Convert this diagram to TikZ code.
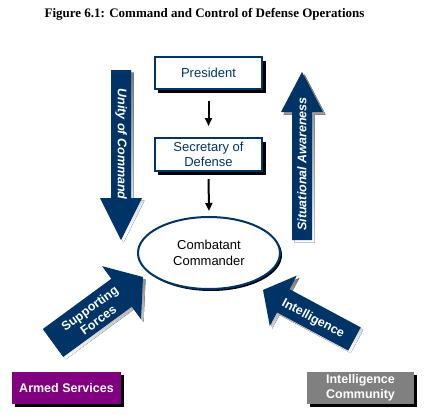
\documentclass[tikz,border=0pt]{standalone}
\usepackage{fontspec}
\setmainfont{Liberation Sans}
\newfontfamily\titlefont{Liberation Serif}
\usetikzlibrary{arrows.meta,shapes.geometric,shadows}
\definecolor{navy}{HTML}{003366}
\definecolor{purp}{HTML}{800080}
\definecolor{grayc}{HTML}{808080}
\definecolor{shade}{HTML}{A0A0A0}
\newcommand{\bigarrow}[6]{%
  \fill[shade, xshift=2.5bp, yshift=-2.5bp, shift={#1}, rotate=#2]
    (0,-#4) -- ({#3-#6},-#4) -- ({#3-#6},-#5) -- (#3,0) -- ({#3-#6},#5) -- ({#3-#6},#4) -- (0,#4) -- cycle;
  \fill[navy, shift={#1}, rotate=#2]
    (0,-#4) -- ({#3-#6},-#4) -- ({#3-#6},-#5) -- (#3,0) -- ({#3-#6},#5) -- ({#3-#6},#4) -- (0,#4) -- cycle;}
\begin{document}
\begin{tikzpicture}[x=1bp,y=-1bp,
  box/.style={draw=navy, line width=2bp, fill=white, text=navy, align=center,
    minimum width=107bp, inner sep=0pt, font=\fontsize{13bp}{15bp}\selectfont,
    drop shadow={shadow xshift=3.5bp, shadow yshift=-3.5bp, fill=black, opacity=1}},
  orgbox/.style={fill=#1, text=white, align=center, inner sep=0pt,
    minimum height=32bp, font=\bfseries\fontsize{12.5bp}{15bp}\selectfont,
    drop shadow={shadow xshift=3bp, shadow yshift=-3bp, fill=black, opacity=1}},
  arrtext/.style={text=white, align=center, inner sep=0pt, font=\bfseries\fontsize{12.5bp}{14.5bp}\selectfont},
  link/.style={line width=2bp, -{Triangle[width=7bp,length=8bp]}}]
\useasboundingbox[fill=white] (0,0) rectangle (427,415);

\node (title) at (204.5,14) {\titlefont\bfseries\fontsize{13bp}{15bp}\selectfont Figure 6.1: Command and Control of Defense Operations};

% big arrows
\bigarrow{(121,70)}{-90}{170}{10}{21}{42}
\bigarrow{(302,240)}{90}{168}{10}{21}{40}
\bigarrow{(53,343)}{36.25}{111.6}{17.3}{33}{26.6}
\bigarrow{(354.5,339)}{151.8}{103.8}{13.2}{28.6}{23}

\node[arrtext, rotate=-90, font=\bfseries\itshape\fontsize{12.5bp}{13bp}\selectfont] (unity) at (121,144) {Unity of Command};
\node[arrtext, rotate=90, font=\bfseries\itshape\fontsize{12.5bp}{13bp}\selectfont] (aware) at (302,164) {Situational Awareness};
\node[arrtext, rotate=36.25] (support) at (94,314) {Supporting\\Forces};
\node[arrtext, rotate=-28.2] (intel) at (313,319) {Intelligence};

% chain
\node[box, minimum height=32bp] (pres) at (208.5,73) {President};
\node[box, minimum height=33bp] (sec) at (208.5,154.5) {Secretary of\\Defense};
\node[ellipse, draw=navy, line width=2bp, fill=white, minimum width=142bp, minimum height=72bp,
  inner sep=0pt, align=center, font=\fontsize{13bp}{16bp}\selectfont,
  drop shadow={shadow xshift=2bp, shadow yshift=-2bp, fill=black, opacity=1}] (cc) at (209,253) {Combatant\\Commander};

\draw[link, shorten <=11bp, shorten >=11bp] (pres.south) -- (sec.north);
\draw[link, shorten <=7bp, shorten >=5bp] (sec.south) -- (cc.north);

% organisations
\node[orgbox=purp, minimum width=109bp] (armed) at (66.5,388) {Armed Services};
\node[orgbox=grayc, minimum width=107bp] (ic) at (360.5,388) {Intelligence\\Community};
\end{tikzpicture}
\end{document}
